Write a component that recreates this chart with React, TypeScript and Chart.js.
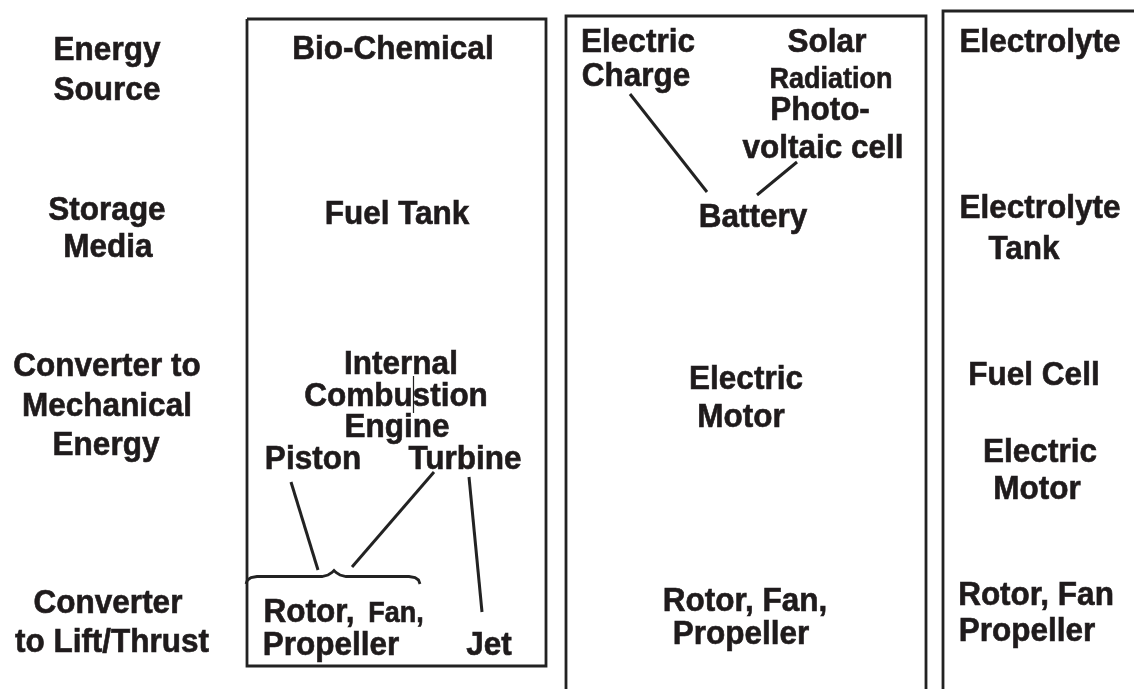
import React, { useEffect, useRef } from "react";
import { Chart, registerables } from "chart.js";

Chart.register(...registerables);

// ---- Diagram content (data coordinates: x 0..1134, y 0..689 top-down) ----
const rowLabels = [
  "Energy", "Source",
  "Storage", "Media",
  "Converter to", "Mechanical", "Energy",
  "Converter", "to Lift/Thrust",
];
const rowLabelX = [107, 107, 107, 108, 107, 107, 106, 108, 112];
const rowLabelY = [60, 100, 220, 257, 376, 416, 455, 613, 652];

const cellLabels = [
  "Bio-Chemical", "Fuel Tank", "Internal", "Combustion", "Engine", "Piston", "Turbine",
  "Rotor,", "Fan,", "Propeller", "Jet",
  "Electric", "Charge", "Solar", "Radiation", "Photo-", "voltaic cell", "Battery",
  "Electric", "Motor", "Rotor, Fan,", "Propeller",
  "Electrolyte", "Electrolyte", "Tank", "Fuel Cell", "Electric", "Motor", "Rotor, Fan", "Propeller",
];
const cellLabelX = [
  393, 397, 401, 396, 397, 313, 465,
  309, 396, 331, 489,
  638, 636, 827, 831, 820, 823, 753,
  746, 741, 745, 741,
  1040, 1040, 1024, 1034, 1040, 1037, 1036, 1027,
];
const cellLabelY = [
  59, 224, 374, 406, 437, 469, 469,
  622, 622, 655, 655,
  52, 86, 52, 88, 120, 158, 227,
  389, 427, 611, 644,
  52, 218, 259, 385, 462, 499, 605, 641,
];
const smallCellLabels = ["Radiation", "Fan,"];

// Column boxes (polylines)
const box1 = [[247, 19], [546, 19], [546, 666], [247, 666], [247, 19]];
const box2 = [[566, 700], [566, 16], [926, 16], [926, 700]];
const box3 = [[943, 700], [943, 11], [1140, 11]];

// Connectors
const chargeLine = [[630, 94], [707, 192]];
const pvLine = [[797, 162], [757, 195]];
const pistonLine = [[291, 482], [318, 570]];
const turbineLine = [[434, 472], [352, 567]];
const jetLine = [[469, 477], [482, 612]];
const cursorLine = [[413.5, 376], [413.5, 413]];
const brace = [
  [246, 584], [247.5, 580], [251, 577.5], [257, 576.5], [322, 576.5], [328, 575],
  [332, 572.5], [334, 570.5], [336, 572.5], [340, 575], [346, 576.5], [409, 576.5],
  [415, 577.5], [418.5, 580], [420, 584],
];

const INK = "#1f1b1c";
const LINE = "#222222";

const toPts = (arr: number[][]) => arr.map(([x, y]) => ({ x, y }));

export default function App() {
  const ref = useRef<HTMLCanvasElement | null>(null);

  useEffect(() => {
    if (!ref.current) return;
    const lineSet = (pts: number[][], w: number) => ({
      data: toPts(pts),
      showLine: true,
      borderColor: LINE,
      borderWidth: w,
      pointRadius: 0,
      fill: false,
      tension: 0,
    });

    const textPlugin = {
      id: "diagramText",
      afterDatasetsDraw(chart: any) {
        const { ctx, scales } = chart;
        const xs = scales.x;
        const ys = scales.y;
        const draw = (t: string, x: number, y: number, size: number) => {
          ctx.save();
          ctx.translate(xs.getPixelForValue(x), ys.getPixelForValue(y));
          ctx.scale(1, 1.08);
          ctx.font = `bold ${size}px "Liberation Sans", Arial, sans-serif`;
          ctx.fillStyle = INK;
          ctx.strokeStyle = INK;
          ctx.lineWidth = 0.6;
          ctx.textAlign = "center";
          ctx.textBaseline = "alphabetic";
          ctx.fillText(t, 0, 0);
          ctx.strokeText(t, 0, 0);
          ctx.restore();
        };
        rowLabels.forEach((t, i) => draw(t, rowLabelX[i], rowLabelY[i], 31.5));
        cellLabels.forEach((t, i) =>
          draw(t, cellLabelX[i], cellLabelY[i], smallCellLabels.includes(t) ? 27 : 31.5)
        );
      },
    };

    const chart = new Chart(ref.current, {
      type: "scatter",
      data: {
        datasets: [
          lineSet(box1, 2.8),
          lineSet(box2, 2.8),
          lineSet(box3, 2.8),
          lineSet(chargeLine, 3),
          lineSet(pvLine, 3),
          lineSet(pistonLine, 3),
          lineSet(turbineLine, 3),
          lineSet(jetLine, 3),
          lineSet(cursorLine, 1.2),
          lineSet(brace, 2.8),
        ] as any,
      },
      options: {
        animation: false,
        responsive: false,
        maintainAspectRatio: false,
        layout: { padding: 0 },
        plugins: { legend: { display: false }, tooltip: { enabled: false }, title: { display: false } },
        scales: {
          x: { type: "linear", min: 0, max: 1134, display: false },
          y: { type: "linear", min: 0, max: 689, reverse: true, display: false },
        },
        elements: { line: { borderCapStyle: "butt", borderJoinStyle: "miter" } },
      } as any,
      plugins: [textPlugin],
    });
    return () => chart.destroy();
  }, []);

  return (
    <div style={{ position: "fixed", left: 0, top: 0, width: 1134, height: 689, background: "#fff" }}>
      <canvas ref={ref} width={1134} height={689} style={{ display: "block", width: 1134, height: 689 }} />
    </div>
  );
}
